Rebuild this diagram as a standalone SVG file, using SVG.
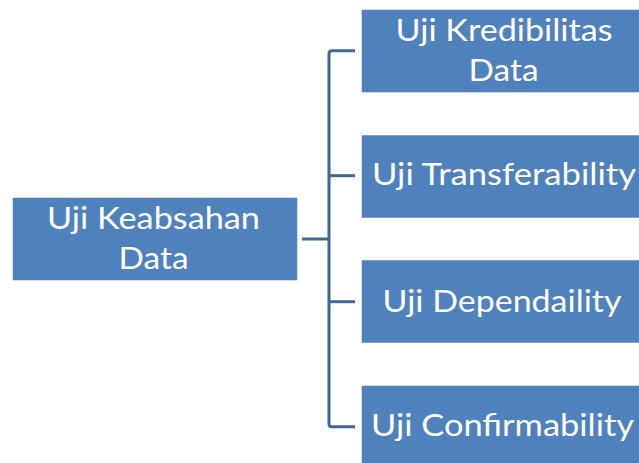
<svg xmlns="http://www.w3.org/2000/svg" width="639" height="463" viewBox="0 0 639 463">
  <style>
    .box { fill: #4F81BD; stroke: #FFFFFF; stroke-width: 1.5; }
    .label { font-family: Lato, "Open Sans", "Liberation Sans", sans-serif; font-size: 31px; fill: #FFFFFF; text-anchor: middle; }
    .link { fill: none; stroke: #3F6797; stroke-width: 3; stroke-linejoin: round; }
  </style>
  <rect width="639" height="463" fill="#FFFFFF"/>

  <!-- bracket connectors from the root to the four branches -->
  <g id="connectors">
    <path class="link" d="M302,239 H329"/>
    <path class="link" d="M355,50.7 H332 Q329,50.7 329,53.7 V423.7 Q329,426.7 332,426.7 H355"/>
    <path class="link" d="M329,175.7 H355"/>
    <path class="link" d="M329,301.7 H355"/>
  </g>

  <g id="root">
    <rect class="box" x="12" y="197" width="286" height="84"/>
    <text class="label" x="153.5" y="229" textLength="213" lengthAdjust="spacingAndGlyphs">Uji Keabsahan</text>
    <text class="label" x="153.5" y="269" textLength="70" lengthAdjust="spacingAndGlyphs">Data</text>
  </g>

  <g id="kredibilitas">
    <rect class="box" x="361" y="9" width="286" height="84"/>
    <text class="label" x="504" y="41" textLength="217" lengthAdjust="spacingAndGlyphs">Uji Kredibilitas</text>
    <text class="label" x="503.5" y="81" textLength="70" lengthAdjust="spacingAndGlyphs">Data</text>
  </g>

  <g id="transferability">
    <rect class="box" x="361" y="134.5" width="286" height="84"/>
    <text class="label" x="504" y="185" textLength="264" lengthAdjust="spacingAndGlyphs">Uji Transferability</text>
  </g>

  <g id="dependaility">
    <rect class="box" x="361" y="259.5" width="286" height="84"/>
    <text class="label" x="502" y="311.5" textLength="239" lengthAdjust="spacingAndGlyphs">Uji Dependaility</text>
  </g>

  <g id="confirmability">
    <rect class="box" x="361" y="385" width="286" height="84"/>
    <text class="label" x="502.5" y="436" textLength="263" lengthAdjust="spacingAndGlyphs">Uji Confirmability</text>
  </g>
</svg>
